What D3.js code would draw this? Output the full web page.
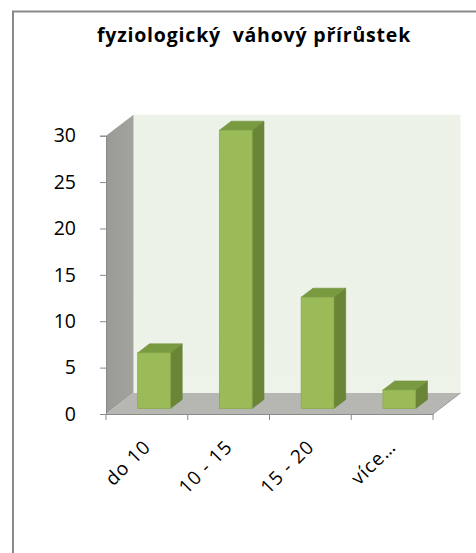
<!DOCTYPE html>
<html>
<head>
<meta charset="utf-8">
<script src="https://cdn.jsdelivr.net/npm/d3@7"></script>
<style>
  html, body { margin: 0; padding: 0; background: #fff; }
  svg { display: block; }
  text { font-family: "Open Sans", Lato, sans-serif; fill: #000; }
</style>
</head>
<body>
<svg id="chart" width="476" height="553"></svg>
<script>
// Weight gain distribution (counts per category)
const title = "fyziologický  váhový přírůstek";
const categories = ["do 10", "10 - 15", "15 - 20", "více…"];
const values = [6, 30, 12, 2];
const yTicks = [0, 5, 10, 15, 20, 25, 30];

const svg = d3.select("#chart");

// Chart frame (runs past the visible area on the right and bottom)
svg.append("rect")
  .attr("x", 13).attr("y", 11.5)
  .attr("width", 520).attr("height", 600)
  .attr("fill", "#fff")
  .attr("stroke", "#8a8a8a").attr("stroke-width", 2);

svg.append("text")
  .attr("x", 254).attr("y", 42)
  .attr("text-anchor", "middle")
  .style("white-space", "pre")
  .attr("font-size", 19.5).attr("font-weight", "bold")
  .attr("letter-spacing", 0.8)
  .text(title);

// Front plane of the 3D plot
const x0 = 106, x1 = 433;
const y = d3.scaleLinear().domain([0, 30]).range([414, 135.7]);
const x = d3.scaleBand().domain(categories).range([x0, x1]);
// Depth vector (back of the box relative to front)
const D = [27.5, -21];

const defs = svg.append("defs");
const wallGrad = defs.append("linearGradient").attr("id", "backwall")
  .attr("x1", 0).attr("y1", 0).attr("x2", 0).attr("y2", 1);
wallGrad.append("stop").attr("offset", 0).attr("stop-color", "#edf2e8");
wallGrad.append("stop").attr("offset", 1).attr("stop-color", "#eef3e9");

const sideGrad = defs.append("linearGradient").attr("id", "sidewall")
  .attr("x1", 0).attr("y1", 0).attr("x2", 1).attr("y2", 0);
sideGrad.append("stop").attr("offset", 0).attr("stop-color", "#9a9b97");
sideGrad.append("stop").attr("offset", 1).attr("stop-color", "#a2a39f");

const poly = pts => "M" + pts.map(p => p.join(",")).join("L") + "Z";
const yTop = y(30), yBot = y(0);

// Back wall
svg.append("path")
  .attr("d", poly([[x0 + D[0], yTop + D[1]], [x1 + D[0], yTop + D[1]], [x1 + D[0], yBot + D[1]], [x0 + D[0], yBot + D[1]]]))
  .attr("fill", "url(#backwall)");

// Left side wall
svg.append("path")
  .attr("d", poly([[x0, yTop], [x0 + D[0], yTop + D[1]], [x0 + D[0], yBot + D[1]], [x0, yBot]]))
  .attr("fill", "url(#sidewall)");

// Floor
svg.append("path")
  .attr("d", poly([[x0, yBot], [x0 + D[0], yBot + D[1]], [x1 + D[0], yBot + D[1]], [x1, yBot]]))
  .attr("fill", "#b6b7b3");

// Floor right edge
svg.append("line")
  .attr("x1", x1).attr("y1", yBot).attr("x2", x1 + D[0]).attr("y2", yBot + D[1])
  .attr("stroke", "#9a9a9a").attr("stroke-width", 1);

// Bars: front face in a plane a quarter of the way back, depth ~0.43 of the box
const bf = 0.26, bd = 0.43, bw = 0.40;
const bars = svg.append("g");
categories.forEach((c, i) => {
  const v = values[i];
  const bx = x(c) + x.bandwidth() * (1 - bw) / 2 + D[0] * bf;
  const w = x.bandwidth() * bw;
  const by0 = y(0) + D[1] * bf;
  const by1 = y(v) + D[1] * bf;
  const dx = D[0] * bd, dy = D[1] * bd;
  // side
  bars.append("path")
    .attr("d", poly([[bx + w, by1], [bx + w + dx, by1 + dy], [bx + w + dx, by0 + dy], [bx + w, by0]]))
    .attr("fill", "#6a8535").attr("stroke", "#62802f").attr("stroke-width", 0.6);
  // top
  bars.append("path")
    .attr("d", poly([[bx, by1], [bx + dx, by1 + dy], [bx + w + dx, by1 + dy], [bx + w, by1]]))
    .attr("fill", "#7a9a42").attr("stroke", "#6f8e3a").attr("stroke-width", 0.6);
  // front
  bars.append("rect")
    .attr("x", bx).attr("y", by1).attr("width", w).attr("height", by0 - by1)
    .attr("fill", "#9bbb59").attr("stroke", "#8aab4c").attr("stroke-width", 0.8);
});

// Value axis
const yAxis = svg.append("g").attr("transform", `translate(${x0},0)`)
  .call(d3.axisLeft(y).tickValues(yTicks).tickSize(6).tickPadding(24));
yAxis.select(".domain").attr("stroke", "#8a8a8a");
yAxis.selectAll(".tick line").attr("stroke", "#8a8a8a");
yAxis.selectAll(".tick text").attr("font-size", 19.5).attr("font-family", "'Open Sans', sans-serif").attr("fill", "#000");

// Category axis
const xAxis = svg.append("g").attr("transform", `translate(0,${yBot})`)
  .call(d3.axisBottom(x).tickSize(0).tickFormat(""));
xAxis.select(".domain").attr("stroke", "#8a8a8a");
xAxis.selectAll(".tick").remove();
const bounds = [x0, ...categories.map(c => x(c) + x.bandwidth())];
xAxis.selectAll("line.cat-tick").data(bounds).join("line")
  .attr("class", "cat-tick")
  .attr("x1", d => d).attr("x2", d => d)
  .attr("y1", 0).attr("y2", 6)
  .attr("stroke", "#8a8a8a");

svg.append("g").selectAll("text").data(categories).join("text")
  .attr("transform", d => `translate(${x(d) + x.bandwidth() / 2 + 5},448) rotate(-45)`)
  .attr("text-anchor", "end")
  .attr("font-size", 19)
  .attr("letter-spacing", 1)
  .text(d => d);
</script>
</body>
</html>
